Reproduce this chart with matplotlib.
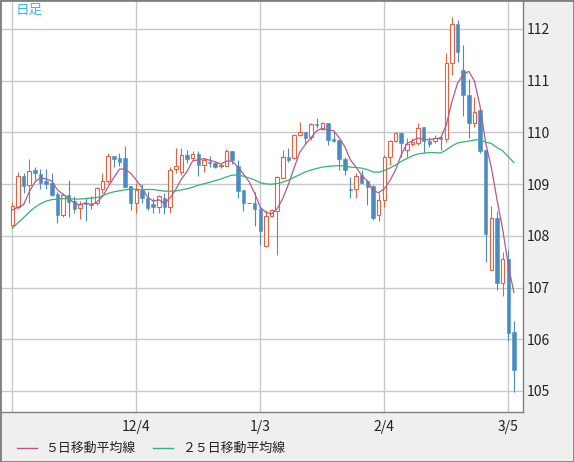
import numpy as np
import pandas as pd
import matplotlib
matplotlib.use('Agg')
import matplotlib.pyplot as plt
from matplotlib.patches import Rectangle
from matplotlib.lines import Line2D

plt.rcParams['font.family'] = ['Noto Sans CJK JP', 'DejaVu Sans']

# daily candles (one per weekday, 11/4 .. 3/6)
opens = [108.20, 108.56, 109.16, 108.98, 109.27, 109.20, 109.05, 109.03, 108.80, 108.40,
		 108.79, 108.67, 108.53, 108.63, 108.62, 108.63, 108.91, 109.05, 109.54, 109.50,
		 109.51, 108.96, 108.63, 108.89, 108.74, 108.62, 108.55, 108.74, 108.55, 109.29,
		 109.24, 109.56, 109.50, 109.58, 109.36, 109.42, 109.40, 109.34, 109.35, 109.64,
		 109.35, 108.89, 108.63, 108.63, 108.52, 107.80, 108.38, 108.47, 109.12, 109.52,
		 109.50, 109.94, 110.01, 109.92, 110.16, 110.06, 110.18, 109.87, 109.85, 109.48,
		 108.90, 108.90, 109.18, 109.05, 108.96, 108.40, 108.69, 109.52, 109.83, 109.99,
		 109.66, 109.78, 109.80, 110.10, 109.83, 109.83, 109.91, 109.87, 111.34, 112.10,
		 111.20, 110.72, 110.18, 110.43, 109.66, 107.33, 108.34, 107.09, 107.55, 106.14]

highs = [108.66, 109.23, 109.21, 109.48, 109.33, 109.29, 109.30, 109.21, 108.85, 108.82,
		 109.08, 108.76, 108.67, 108.73, 108.76, 108.95, 109.21, 109.61, 109.54, 109.61,
		 109.74, 108.96, 109.02, 109.00, 108.87, 108.73, 108.78, 108.82, 109.33, 109.69,
		 109.69, 109.65, 109.63, 109.63, 109.50, 109.55, 109.43, 109.40, 109.67, 109.64,
		 109.47, 108.89, 108.63, 108.85, 108.56, 108.50, 108.51, 109.15, 109.66, 109.70,
		 109.97, 110.21, 110.01, 110.18, 110.28, 110.21, 110.19, 110.01, 109.85, 109.53,
		 109.14, 109.21, 109.27, 109.08, 108.98, 108.82, 109.56, 109.85, 110.01, 110.01,
		 109.89, 109.89, 110.18, 110.11, 109.92, 109.95, 109.95, 111.53, 112.23, 112.17,
		 111.69, 111.03, 110.69, 110.47, 109.66, 108.58, 108.47, 107.69, 107.73, 106.35]

lows = [108.16, 108.51, 108.82, 108.64, 109.08, 108.91, 108.90, 108.77, 108.25, 108.37,
		108.37, 108.45, 108.32, 108.29, 108.52, 108.60, 108.82, 109.02, 109.33, 109.34,
		108.95, 108.49, 108.44, 108.64, 108.50, 108.44, 108.45, 108.42, 108.44, 109.21,
		109.18, 109.40, 109.47, 109.16, 109.24, 109.33, 109.31, 109.32, 109.34, 109.39,
		108.74, 108.47, 108.63, 108.19, 107.82, 107.78, 108.37, 107.63, 109.11, 109.43,
		109.48, 109.93, 109.79, 109.85, 110.08, 110.05, 109.76, 109.82, 109.27, 109.18,
		108.73, 108.73, 109.02, 108.60, 108.31, 108.29, 108.56, 109.37, 109.82, 109.53,
		109.53, 109.74, 109.76, 109.60, 109.72, 109.79, 109.66, 109.82, 111.11, 111.37,
		110.32, 109.89, 110.11, 109.60, 107.50, 107.33, 106.95, 106.84, 105.97, 104.98]

closes = [108.58, 109.16, 108.97, 109.26, 109.22, 109.03, 109.00, 108.79, 108.40, 108.79,
		  108.66, 108.52, 108.61, 108.61, 108.60, 108.92, 109.06, 109.54, 109.49, 109.43,
		  108.95, 108.63, 108.89, 108.74, 108.54, 108.55, 108.76, 108.55, 109.27, 109.35,
		  109.56, 109.49, 109.58, 109.36, 109.47, 109.41, 109.33, 109.37, 109.64, 109.47,
		  108.87, 108.63, 108.63, 108.52, 108.10, 108.38, 108.49, 109.13, 109.52, 109.47,
		  109.95, 110.00, 109.90, 110.16, 110.14, 110.18, 109.85, 109.83, 109.48, 109.27,
		  108.89, 109.16, 109.03, 108.95, 108.34, 108.69, 109.53, 109.83, 109.98, 109.79,
		  109.78, 109.82, 110.08, 109.84, 109.77, 109.89, 109.87, 111.34, 112.10, 111.56,
		  110.72, 110.18, 110.40, 109.63, 108.03, 108.34, 107.09, 107.55, 106.13, 105.40]

# moving average values on the left edge, where the window starts before the chart
ma5_head = [108.50, 108.55, 108.60, 108.85]
ma25_head = [108.15, 108.25, 108.35, 108.46, 108.55, 108.62, 108.67, 108.70,
			 108.71, 108.72, 108.72, 108.71, 108.71, 108.72, 108.73, 108.74,
			 108.77, 108.82, 108.85, 108.87, 108.89, 108.90, 108.90, 108.89]

tick_idx = [0, 22, 44, 66, 88]
tick_labels = ['', '12/4', '1/3', '2/4', '3/5']
y_ticks = [105, 106, 107, 108, 109, 110, 111, 112]

legend_labels = ['５日移動平均線', '２５日移動平均線']

UP = '#de6446'
DOWN = '#4a8bc2'
MA5_COL = '#b5588e'
MA25_COL = '#2fb574'
GRID = '#c8c8c8'
FRAME = '#808080'

W, H = 574, 462

close_s = pd.Series(closes)
ma5 = close_s.rolling(5).mean().values
ma5[:len(ma5_head)] = ma5_head
ma25 = close_s.rolling(25).mean().values
ma25[:len(ma25_head)] = ma25_head

fig = plt.figure(figsize = (W / 100, H / 100), dpi = 100, facecolor = '#efefef')
ax = fig.add_axes([2 / W, 50 / H, 521 / W, 411 / H])
ax.set_facecolor('white')

body_w = 0.62

for i in range(len(closes)):

	o, h, l, c = opens[i], highs[i], lows[i], closes[i]
	up = c >= o
	col = UP if up else DOWN

	ax.vlines(i, l, h, color = col, lw = 0.8, zorder = 2)
	ax.add_patch(Rectangle((i - body_w / 2, min(o, c)), body_w, abs(c - o),
						   facecolor = 'white' if up else col,
						   edgecolor = col, lw = 0.8 if up else 0.4, zorder = 3))

x = np.arange(len(closes))
ax.plot(x, ma5, color = MA5_COL, lw = 0.9, zorder = 4)
ax.plot(x, ma25, color = MA25_COL, lw = 0.9, zorder = 4)

ax.set_xlim(-1.83, 90.61)
ax.set_ylim(104.593, 112.54)

ax.set_xticks(tick_idx)
ax.set_xticklabels(tick_labels)
ax.set_yticks(y_ticks)
ax.yaxis.tick_right()

ax.tick_params(axis = 'x', length = 0, pad = 5.5, labelsize = 10, colors = '#222222')
ax.tick_params(axis = 'y', length = 0, pad = 3, labelsize = 10, colors = '#222222')

ax.grid(color = GRID, lw = 1)
ax.set_axisbelow(True)

for side in ['left', 'top']:
	ax.spines[side].set_visible(False)
for side in ['right', 'bottom']:
	ax.spines[side].set_color(FRAME)
	ax.spines[side].set_linewidth(1)

fig.text(16 / W, 1 - 10 / H, '日足', ha = 'left', va = 'center', color = '#3cb4ee', fontsize = 9.8)

# legend
ly = 1 - 448 / H
fig.add_artist(Line2D([17 / W, 37 / W], [ly, ly], color = MA5_COL, lw = 1))
fig.text(45 / W, ly, legend_labels[0], ha = 'left', va = 'center', fontsize = 9.3, color = '#222222')
fig.add_artist(Line2D([153 / W, 173 / W], [ly, ly], color = MA25_COL, lw = 1))
fig.text(182 / W, ly, legend_labels[1], ha = 'left', va = 'center', fontsize = 9.3, color = '#222222')

fig.add_artist(Rectangle((0, 0), 1, 1, transform = fig.transFigure, fill = False,
						 edgecolor = FRAME, lw = 2))

fig.savefig('out.png', dpi = 100, facecolor = fig.get_facecolor())
